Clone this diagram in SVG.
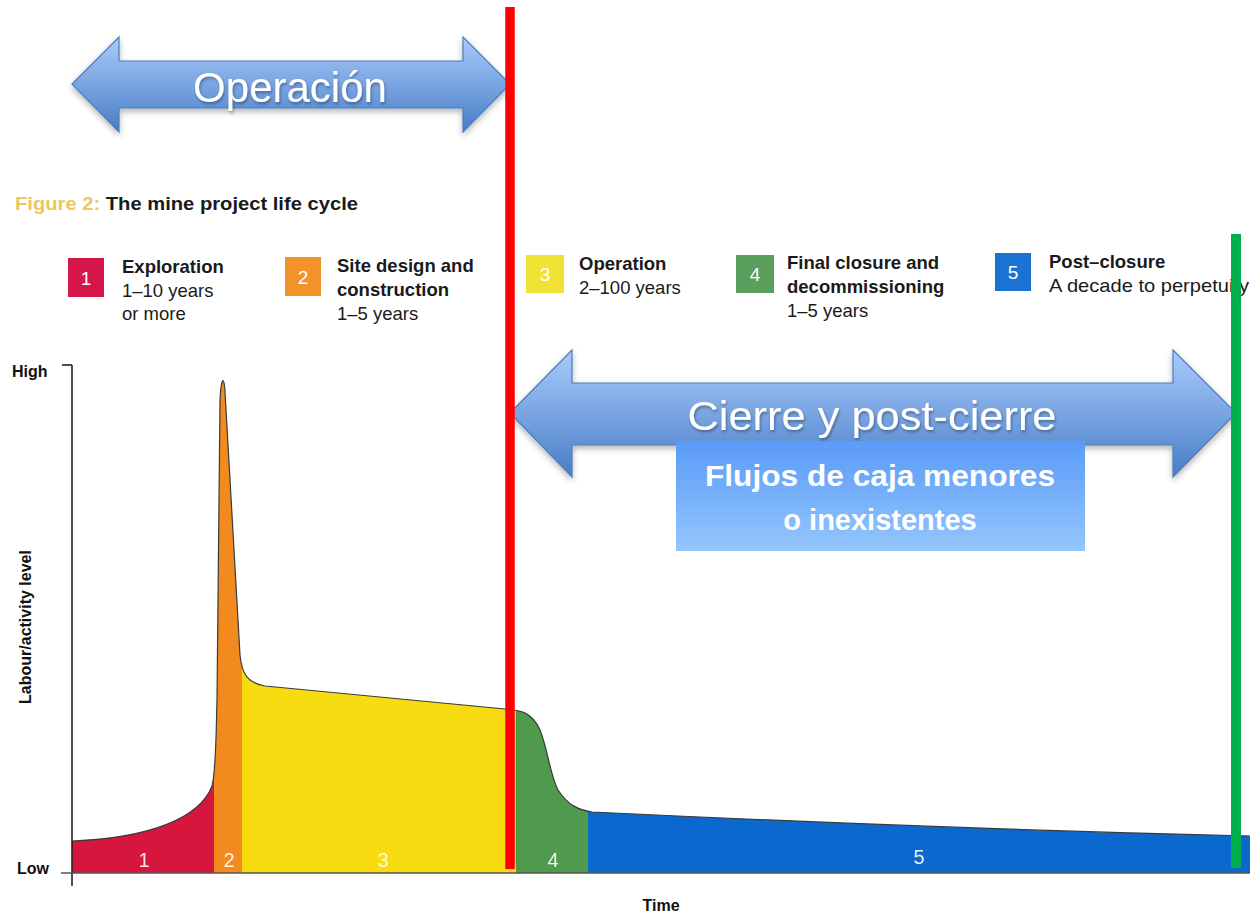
<svg xmlns="http://www.w3.org/2000/svg" width="1250" height="916" viewBox="0 0 1250 916">
<defs>
<style>
.lg{font-family:"Liberation Sans",Arial,sans-serif;font-size:18.5px;fill:#1a1a1a}
.lgb{font-family:"Liberation Sans",Arial,sans-serif;font-size:18.5px;font-weight:bold;fill:#1a1a1a}
.num{font-family:"Liberation Sans",Arial,sans-serif;font-size:19px;fill:#fff;text-anchor:middle}
.band{font-family:"Liberation Sans",Arial,sans-serif;font-size:20px;fill:#fff;text-anchor:middle;opacity:0.9}
.ax{font-family:"Liberation Sans",Arial,sans-serif;font-size:16px;font-weight:bold;fill:#111}
.big{font-family:"Liberation Sans",Arial,sans-serif;fill:#fff;text-anchor:middle}
.arrow{fill:url(#ag);stroke:#4a7ebb;stroke-width:1.2}
</style>
<linearGradient id="ag" x1="0" y1="0" x2="0" y2="1">
<stop offset="0" stop-color="#a8cbfa"/>
<stop offset="0.5" stop-color="#7aa5e2"/>
<stop offset="1" stop-color="#477dc6"/>
</linearGradient>
<linearGradient id="bg" x1="0" y1="0" x2="0" y2="1">
<stop offset="0" stop-color="#5a9bf8"/>
<stop offset="1" stop-color="#94c6fc"/>
</linearGradient>
<filter id="sh" x="-10%" y="-20%" width="120%" height="150%">
<feDropShadow dx="0" dy="3" stdDeviation="3" flood-color="#000" flood-opacity="0.3"/>
</filter>
<filter id="ts" x="-10%" y="-30%" width="120%" height="160%">
<feDropShadow dx="1" dy="2" stdDeviation="1.5" flood-color="#000" flood-opacity="0.35"/>
</filter>
<clipPath id="curve">
<path d="M72,841 C150,838 200,818 212,786 C216,772 216,735 217,700 L220,400 C221,378 224,374 225,392 L240,655 C242,675 248,683 265,686 L505,709 C520,710 532,712 540,730 C548,750 550,775 558,790 C568,805 578,810 592,812 C800,822 1000,830 1250,836 L1250,873 L72,873 Z"/>
</clipPath>
</defs>
<rect width="1250" height="916" fill="#fff"/>

<g id="title">
<text x="15" y="210" class="lgb" textLength="343" lengthAdjust="spacingAndGlyphs"><tspan fill="#ebc75c">Figure 2:</tspan> The mine project life cycle</text>
</g>

<g id="legend-1">
<rect x="68" y="258" width="36" height="39" fill="#d6154a"/>
<text x="86" y="285" class="num">1</text>
<text x="122" y="273" class="lgb">Exploration</text>
<text x="122" y="297" class="lg">1–10 years</text>
<text x="122" y="320" class="lg">or more</text>
</g>
<g id="legend-2">
<rect x="285" y="257" width="36" height="39" fill="#f2922a"/>
<text x="303" y="284" class="num">2</text>
<text x="337" y="272" class="lgb">Site design and</text>
<text x="337" y="296" class="lgb">construction</text>
<text x="337" y="320" class="lg">1–5 years</text>
</g>
<g id="legend-3">
<rect x="526" y="255" width="38" height="38" fill="#f0e234"/>
<text x="545" y="281" class="num">3</text>
<text x="579" y="270" class="lgb">Operation</text>
<text x="579" y="294" class="lg">2–100 years</text>
</g>
<g id="legend-4">
<rect x="736" y="255" width="38" height="38" fill="#5a9f5c"/>
<text x="755" y="281" class="num">4</text>
<text x="787" y="269" class="lgb">Final closure and</text>
<text x="787" y="293" class="lgb">decommissioning</text>
<text x="787" y="317" class="lg">1–5 years</text>
</g>
<g id="legend-5">
<rect x="995" y="253" width="36" height="38" fill="#1a72d2"/>
<text x="1013" y="279" class="num">5</text>
<text x="1049" y="268" class="lgb">Post–closure</text>
<text x="1049" y="292" class="lg" textLength="200" lengthAdjust="spacingAndGlyphs">A decade to perpetuity</text>
</g>

<g id="chart">
<g clip-path="url(#curve)">
<rect x="72" y="350" width="142" height="530" fill="#d7163d"/>
<rect x="214" y="350" width="28" height="530" fill="#f28a1e"/>
<rect x="242" y="350" width="274" height="530" fill="#f6dc10"/>
<rect x="516" y="350" width="72" height="530" fill="#4f9a4c"/>
<rect x="588" y="350" width="662" height="530" fill="#0b68cf"/>
</g>
<path d="M72,841 C150,838 200,818 212,786 C216,772 216,735 217,700 L220,400 C221,378 224,374 225,392 L240,655 C242,675 248,683 265,686 L505,709 C520,710 532,712 540,730 C548,750 550,775 558,790 C568,805 578,810 592,812 C800,822 1000,830 1250,836" fill="none" stroke="#3a3a3a" stroke-width="1.2"/>
<text x="144" y="867" class="band">1</text>
<text x="229" y="867" class="band">2</text>
<text x="383" y="867" class="band">3</text>
<text x="553" y="867" class="band">4</text>
<text x="919" y="864" class="band">5</text>
</g>

<g id="axes">
<line x1="72" y1="365" x2="72" y2="886" stroke="#222" stroke-width="1.6"/>
<line x1="62" y1="365" x2="72" y2="365" stroke="#222" stroke-width="1.6"/>
<line x1="61" y1="873" x2="1250" y2="873" stroke="#555" stroke-width="1.6"/>
<text x="12" y="377" class="ax">High</text>
<text x="17" y="874" class="ax">Low</text>
<text class="ax" text-anchor="middle" font-size="17" transform="translate(31,627) rotate(-90)">Labour/activity level</text>
<text x="661" y="911" class="ax" text-anchor="middle">Time</text>
</g>

<g id="operacion" filter="url(#sh)">
<path class="arrow" d="M72,84 L119,37 L119,61 L463,61 L463,37 L510,84 L463,132 L463,108 L119,108 L119,132 Z"/>
</g>
<g id="operacion-label">
<text x="290" y="102" class="big" font-size="42" filter="url(#ts)">Operación</text>
</g>

<g id="cierre" filter="url(#sh)">
<path class="arrow" d="M510,413 L572,350 L572,383 L1173,383 L1173,350 L1236,413 L1173,477 L1173,445 L572,445 L572,477 Z"/>
</g>
<g id="cierre-label">
<text x="872" y="430" class="big" font-size="41" textLength="369" lengthAdjust="spacingAndGlyphs" filter="url(#ts)">Cierre y post-cierre</text>
</g>

<g id="flujos">
<rect x="676" y="441" width="409" height="110" fill="url(#bg)"/>
<text x="880" y="486" class="big" font-size="29" font-weight="bold" textLength="350" lengthAdjust="spacingAndGlyphs">Flujos de caja menores</text>
<text x="880" y="530" class="big" font-size="29" font-weight="bold">o inexistentes</text>
</g>

<g id="connectors">
<line id="red-line" x1="510" y1="7" x2="510" y2="869" stroke="#ff0000" stroke-width="9.5"/>
<line id="green-line" x1="1236" y1="234" x2="1236" y2="868" stroke="#00b04f" stroke-width="10"/>
</g>
</svg>
